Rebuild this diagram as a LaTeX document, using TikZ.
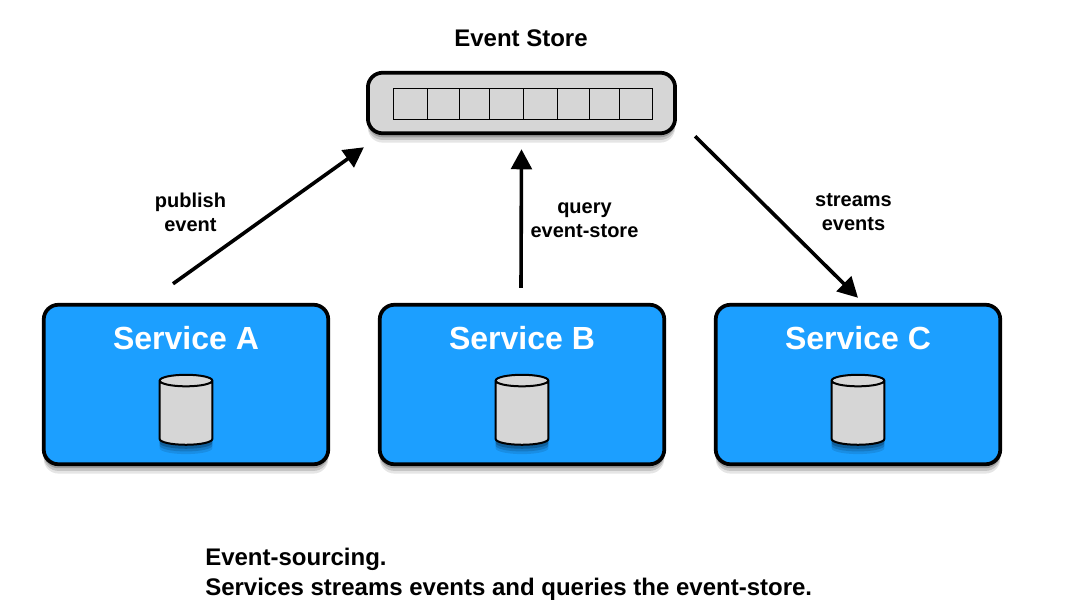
\documentclass[tikz,border=0pt]{standalone}
\usepackage{fontspec}
\setmainfont{Liberation Sans}[BoldFont={Liberation Sans Bold}]
\usetikzlibrary{calc,positioning,arrows.meta,shapes.geometric,shadows}
\definecolor{svcblue}{HTML}{1C9FFF}
\definecolor{storegray}{HTML}{D6D6D6}
\tikzset{
  softshadow/.style={general shadow={shadow xshift=0pt, shadow yshift=-7pt, fill=black, opacity=0.1},
    general shadow={shadow xshift=0pt, shadow yshift=-5pt, fill=black, opacity=0.14},
    general shadow={shadow xshift=0pt, shadow yshift=-3pt, fill=black, opacity=0.2}},
  flow/.style={-{Triangle[length=15pt, width=15.5pt]}, line width=2.7pt},
  svc/.style={draw, fill=svcblue, rounded corners=11pt, line width=2.8pt, outer sep=0pt, softshadow,
    minimum width=213.4pt, minimum height=119.6pt},
  db/.style={cylinder, shape border rotate=90, draw, fill=storegray, line width=1.5pt, aspect=1.3, outer sep=0pt,
    minimum width=39.5pt, minimum height=52.5pt, softshadow},
  svctext/.style={text=white, font=\fontsize{24pt}{28pt}\selectfont\bfseries},
  lab/.style={align=center, font=\fontsize{15pt}{18pt}\selectfont\bfseries}
}
\begin{document}
\begin{tikzpicture}[x=0.75pt, y=-0.75pt]
  \useasboundingbox (0,0) rectangle (1072,614);
  % event store
  \node[draw, fill=storegray, rounded corners=11pt, line width=2.8pt, outer sep=0pt, softshadow,
    minimum width=230.4pt, minimum height=45.4pt] (store) at (521.5,103) {};
  \node[draw, line width=0.7pt, outer sep=0pt, minimum width=194.5pt, minimum height=23.2pt] (log) at (523,103.8) {};
  \foreach \x in {427,459.7,489.7,523.3,557.3,589.7,619.7}
    \draw[line width=0.7pt] (\x,0 |- log.north) -- (\x,0 |- log.south);
  \node[lab, font=\fontsize{18pt}{20pt}\selectfont\bfseries] (title) at (521,38) {Event Store};

  % services
  \node[svc] (svcA) at (186,384.5) {};
  \node[svc, right=38.6pt of svcA] (svcB) {};
  \node[svc, right=38.6pt of svcB] (svcC) {};
  \foreach \s/\t in {svcA/A,svcB/B,svcC/C} {
    \node[svctext] (name\t) at ($(\s.north)+(0,33)$) {Service \t};
    \node[db] (db\t) at ($(\s.north)+(0,110)$) {};
  }

  % connectors
  \draw[flow] ($(svcA.north)+(-13,-21)$) -- ($(store.south west)+(-4,14)$);
  \draw[flow] ($(svcB.north)+(-1,-17)$) -- ($(store.south)+(0,16)$);
  \draw[flow] ($(store.south east)+(20,3)$) -- ($(svcC.north)+(0,-7)$);
  \node[lab] (pub) at (190.5,212.5) {publish\\event};
  \node[lab] (qry) at (584.5,220) {query\\event-store};
  \node[lab] (str) at (853.5,212) {streams\\events};

  \node[align=left, anchor=north west, inner sep=0pt, font=\fontsize{18pt}{22.5pt}\selectfont\bfseries] (note) at (205,548)
    {Event-sourcing.\\Services streams events and queries the event-store.};
\end{tikzpicture}
\end{document}
